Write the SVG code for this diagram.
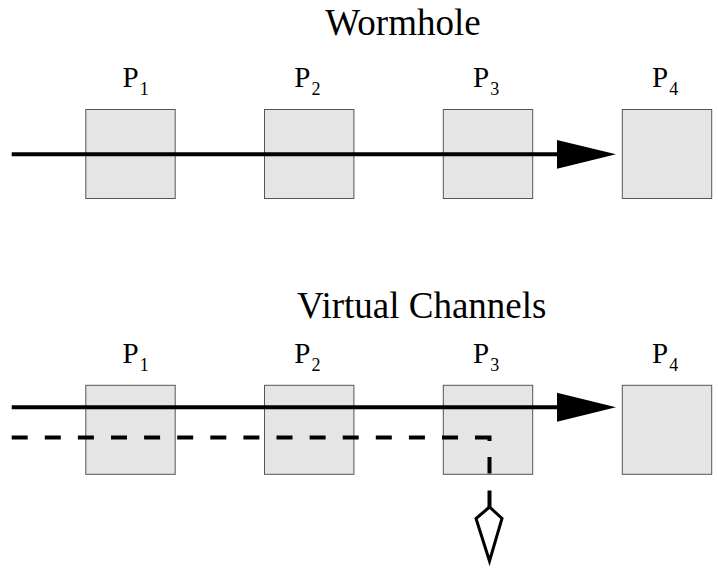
<svg xmlns="http://www.w3.org/2000/svg" width="718" height="571" viewBox="0 0 718 571">
<style>
.box{fill:#e5e5e5;stroke:#555;stroke-width:1}
.title{font-family:"Liberation Serif",serif;font-size:37px;fill:#000;text-anchor:middle}
.lbl{font-family:"Liberation Serif",serif;font-size:29px;fill:#000}
.sub{font-size:18px}
.line{stroke:#000;stroke-width:4;fill:none}
.dash{stroke:#000;stroke-width:4;fill:none;stroke-dasharray:16 17.1}
.head{fill:#000;stroke:none}
</style>
<rect width="718" height="571" fill="#fff"/>
<text class="title" x="403" y="35">Wormhole</text>
<text class="title" x="421.7" y="318">Virtual Channels</text>
<g id="top-p1"><rect class="box" x="85.8" y="109.5" width="89.4" height="89"/><text class="lbl" x="122.5" y="87.3">P<tspan class="sub" dx="1" dy="8">1</tspan></text></g>
<g id="top-p2"><rect class="box" x="264.5" y="109.5" width="89.4" height="89"/><text class="lbl" x="294.3" y="87.3">P<tspan class="sub" dx="1" dy="8">2</tspan></text></g>
<g id="top-p3"><rect class="box" x="443.3" y="109.5" width="89.4" height="89"/><text class="lbl" x="473" y="87.3">P<tspan class="sub" dx="1" dy="8">3</tspan></text></g>
<g id="top-p4"><rect class="box" x="622.3" y="109.5" width="89.4" height="89"/><text class="lbl" x="652" y="87.3">P<tspan class="sub" dx="1" dy="8">4</tspan></text></g>
<g id="bot-p1"><rect class="box" x="85.8" y="385.3" width="89.4" height="89"/><text class="lbl" x="122.5" y="363.3">P<tspan class="sub" dx="1" dy="8">1</tspan></text></g>
<g id="bot-p2"><rect class="box" x="264.5" y="385.3" width="89.4" height="89"/><text class="lbl" x="294.3" y="363.3">P<tspan class="sub" dx="1" dy="8">2</tspan></text></g>
<g id="bot-p3"><rect class="box" x="443.3" y="385.3" width="89.4" height="89"/><text class="lbl" x="473" y="363.3">P<tspan class="sub" dx="1" dy="8">3</tspan></text></g>
<g id="bot-p4"><rect class="box" x="622.3" y="385.3" width="89.4" height="89"/><text class="lbl" x="652" y="363.3">P<tspan class="sub" dx="1" dy="8">4</tspan></text></g>
<g id="connectors">
<line class="line" x1="11.7" y1="154.3" x2="560" y2="154.3"/>
<polygon class="head" points="557,140 616,154.3 557,168.7"/>
<line class="line" x1="11.7" y1="407.3" x2="560" y2="407.3"/>
<polygon class="head" points="557,392.7 616,407.3 557,421.7"/>
<line class="dash" x1="11.7" y1="437.5" x2="470" y2="437.5"/>
<path class="line" d="M475,437.5 H489.5 V441" stroke-linejoin="miter"/>
<line class="line" x1="489.5" y1="457" x2="489.5" y2="473.5"/>
<line class="line" x1="489.5" y1="490.5" x2="489.5" y2="507"/>
<polygon points="489.5,507 476,518.5 489.5,561 502,518.5" fill="#fff" stroke="#000" stroke-width="3" stroke-linejoin="miter"/>
</g>
</svg>
